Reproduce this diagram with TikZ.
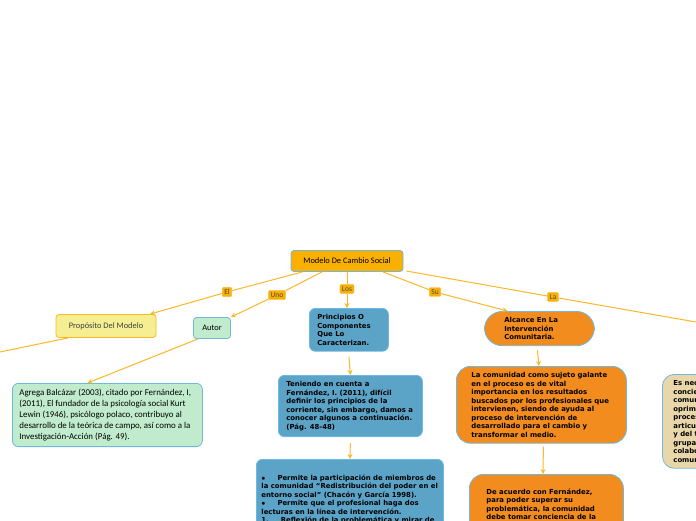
\documentclass[tikz,border=0pt]{standalone}
\usepackage{fontspec}
\setmainfont{Carlito}
\newfontfamily\boxfont{DejaVu Sans}
\usepackage{xcolor}
\usetikzlibrary{arrows.meta, positioning}
\definecolor{mmorange}{HTML}{F9B000}
\definecolor{mmedge}{HTML}{FBB726}
\definecolor{mmblue}{HTML}{5BA4C8}
\definecolor{mmdeep}{HTML}{F28C1E}
\definecolor{mmgreen}{HTML}{C0EBCC}
\definecolor{mmyellow}{HTML}{F5EE93}
\definecolor{mmtan}{HTML}{EAD7A9}
\definecolor{mmframe}{HTML}{6CB8E0}

\begin{document}
\begin{tikzpicture}[x=1pt, y=-1pt,
    topic/.style={rectangle, rounded corners=3pt, draw=#1, line width=0.8pt, inner sep=4pt, font=\fontsize{8.4}{10}\selectfont},
    detail/.style={rectangle, rounded corners=6pt, draw=mmframe, line width=0.8pt, fill=#1, anchor=north west, align=flush left, inner xsep=8pt, inner ysep=6pt, font=\boxfont\bfseries\fontsize{6.9}{8.5}\selectfont},
    plain/.style={rectangle, rounded corners=6pt, draw=mmframe, line width=0.8pt, fill=#1, anchor=north west, align=flush left, inner xsep=7pt, inner ysep=6pt, font=\fontsize{8.9}{10.8}\selectfont},
    tag/.style={rectangle, rounded corners=1pt, fill=mmorange, draw=mmedge, inner sep=2pt, font=\fontsize{7.5}{8}\selectfont, text=black!70},
    link/.style={draw=mmedge, line width=1pt},
    arr/.style={link, -{Stealth[length=5pt, width=5pt]}},
]
\useasboundingbox (0,0) rectangle (696,520);
\clip (0,0) rectangle (696,520);

% root and first level
\node[topic=mmframe, fill=mmorange, minimum width=112pt, minimum height=21pt] (root) at (347,261) {Modelo De Cambio Social};
\node[topic=mmedge, fill=mmyellow, minimum width=100pt, minimum height=23pt, text=black!75] (purpose) at (106,326) {Propósito Del Modelo};
\node[topic=mmframe, fill=mmgreen, minimum width=37pt, minimum height=21pt] (author) at (212,328) {Autor};
\node[detail=mmblue, text width=63pt] (principles) at (309,308) {Principios O\\Componentes\\Que Lo\\Caracterizan.};
\node[detail=mmdeep, rounded corners=18pt, text width=70pt, inner xsep=20pt] (scope) at (484,311) {Alcance En La\\Intervención\\Comunitaria.};
\coordinate (purposeout) at (0,352);
\coordinate (laout) at (696,322);

% second level
\node[plain=mmgreen, text width=176pt] (lewin) at (12,383) {Agrega Balcázar (2003), citado por Fernández, I, (2011), El fundador de la psicología social Kurt Lewin (1946), psicólogo polaco, contribuyo al desarrollo de la teórica de campo, así como a la Investigación-Acción (Pág. 49).};
\node[detail=mmblue, text width=128pt] (teniendo) at (278,375) {Teniendo en cuenta a Fernández, I. (2011), difícil definir los principios de la corriente, sin embargo, damos a conocer algunos a continuación. (Pág. 48-48)};
\node[detail=mmblue, text width=177pt, inner xsep=5pt, minimum height=80pt] (permite) at (256,459) {$\bullet$\hspace{12pt}Permite la participación de miembros de la comunidad “Redistribución del poder en el entorno social” (Chacón y García 1998).\\$\bullet$\hspace{12pt}Permite que el profesional haga dos lecturas en la línea de intervención.\\1.\hspace{12pt}Reflexión de la problemática y mirar de};
\node[detail=mmdeep, rounded corners=14pt, text width=140pt, inner xsep=15pt] (comunidad) at (456,366) {La comunidad como sujeto galante en el proceso es de vital importancia en los resultados buscados por los profesionales que intervienen, siendo de ayuda al proceso de intervención de desarrollado para el cambio y transformar el medio.};
\node[detail=mmdeep, rounded corners=14pt, text width=120pt, inner xsep=17pt, minimum height=70pt] (acuerdo) at (469,474) {De acuerdo con Fernández, para poder superar su problemática, la comunidad debe tomar conciencia de la situación que le rodea, no};
\node[detail=mmtan, rounded corners=12pt, text width=90pt, inner xsep=11pt] (right) at (662,374) {Es necesario\\concientizar a la\\comunidad\\oprimida del\\proceso y la\\articulación\\y del trabajo\\grupal y\\colaborativo\\comunitario.};

% connectors
\node[tag] (tEl) at (227,292) {El};
\node[tag] (tUno) at (277,295) {Uno};
\node[tag] (tLos) at (347,289) {Los};
\node[tag] (tSu) at (435,292) {Su};
\node[tag] (tLa) at (553,297) {La};
\draw[link] (root.south west) ++(12,0) -- (tEl);
\draw[arr] (tEl) -- ([xshift=44pt]purpose.north);
\draw[link] ([xshift=-25pt]root.south) -- (tUno);
\draw[arr] (tUno) -- (author.north east);
\draw[link] (root.south) -- (tLos);
\draw[arr] (tLos) -- (principles.north -| tLos);
\draw[link] ([xshift=36pt]root.south) -- (tSu);
\draw[arr] (tSu) -- ([xshift=-32pt]scope.north);
\draw[link] (root.east) ++(3,10) -- (tLa);
\draw[link] (tLa) -- (laout);
\draw[link] ([xshift=-38pt]purpose.south) -- (purposeout);
\draw[arr] ([xshift=-14pt]author.south) -- ([xshift=-20pt]lewin.north);
\draw[arr] (principles.south) ++(0,5) -- (teniendo.north);
\draw[arr] (teniendo.south) ++(0,6) -- (permite.north);
\draw[arr] (scope.south) ++(-2,4) -- (comunidad.north -| 539,0);
\draw[arr] (comunidad.south) ++(2,3) -- (acuerdo.north -| 543,0);
\end{tikzpicture}
\end{document}
